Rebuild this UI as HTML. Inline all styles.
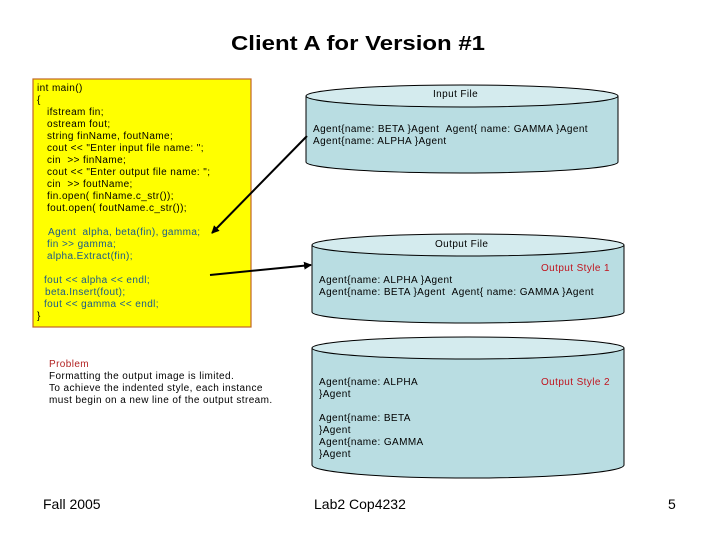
<!DOCTYPE html>
<html><head><meta charset="utf-8"><style>
html,body{margin:0;padding:0;background:#fff;width:720px;height:540px;overflow:hidden}
svg{display:block}
text{font-family:"Liberation Sans",Arial,sans-serif}
.s{letter-spacing:0.4px}
</style></head><body>
<svg width="720" height="540" viewBox="0 0 720 540" xmlns="http://www.w3.org/2000/svg">
<defs>
<marker id="ah" markerWidth="8" markerHeight="8" refX="7" refY="4" orient="auto" markerUnits="userSpaceOnUse">
<path d="M0,0 L8,4 L0,8 Z" fill="#000"/></marker>
</defs>
<text x="231" y="50" font-size="20" font-weight="bold" textLength="254" lengthAdjust="spacingAndGlyphs">Client A for Version #1</text>

<rect x="33" y="79" width="218" height="248" fill="#ffff00" stroke="#c0642a" stroke-width="1.2"/>
<g font-size="10" fill="#000" class="s">
<text x="37" y="91">int main()</text>
<text x="37" y="103">{</text>
<text x="47" y="115">ifstream fin;</text>
<text x="47" y="127">ostream fout;</text>
<text x="47" y="139">string finName, foutName;</text>
<text x="47" y="151">cout &lt;&lt; "Enter input file name: ";</text>
<text x="47" y="163">cin &#160;&gt;&gt; finName;</text>
<text x="47" y="175">cout &lt;&lt; "Enter output file name: ";</text>
<text x="47" y="187">cin &#160;&gt;&gt; foutName;</text>
<text x="47" y="199">fin.open( finName.c_str());</text>
<text x="47" y="211">fout.open( foutName.c_str());</text>
</g>
<g font-size="10" fill="#1a5a8a" class="s">
<text x="48" y="235">Agent &#160;alpha, beta(fin), gamma;</text>
<text x="47" y="247">fin &gt;&gt; gamma;</text>
<text x="47" y="259">alpha.Extract(fin);</text>
<text x="44" y="283">fout &lt;&lt; alpha &lt;&lt; endl;</text>
<text x="45" y="295">beta.Insert(fout);</text>
<text x="44" y="307">fout &lt;&lt; gamma &lt;&lt; endl;</text>
</g>
<text x="37" y="319" font-size="10">}</text>

<g font-size="10" class="s">
<text x="49" y="367" fill="#b22222">Problem</text>
<text x="49" y="379">Formatting the output image is limited.</text>
<text x="49" y="391">To achieve the indented style, each instance</text>
<text x="49" y="403">must begin on a new line of the output stream.</text>
</g>

<path d="M306,96 L306,162 A156,11 0 0 0 618,162 L618,96" fill="#b9dde2" stroke="#000" stroke-width="1"/>
<ellipse cx="462" cy="96" rx="156" ry="11" fill="#d4ebee" stroke="#000" stroke-width="1"/>
<g font-size="10" class="s">
<text x="433" y="97">Input File</text>
<text x="313" y="132">Agent{name: BETA }Agent &#160;Agent{ name: GAMMA }Agent</text>
<text x="313" y="144">Agent{name: ALPHA }Agent</text>
</g>

<path d="M312,245 L312,312 A156,11 0 0 0 624,312 L624,245" fill="#b9dde2" stroke="#000" stroke-width="1"/>
<ellipse cx="468" cy="245" rx="156" ry="11" fill="#d4ebee" stroke="#000" stroke-width="1"/>
<g font-size="10" class="s">
<text x="435" y="247">Output File</text>
<text x="541" y="271" fill="#c0141e">Output Style 1</text>
<text x="319" y="283">Agent{name: ALPHA }Agent</text>
<text x="319" y="295">Agent{name: BETA }Agent &#160;Agent{ name: GAMMA }Agent</text>
</g>

<path d="M312,348 L312,465 A156,13 0 0 0 624,465 L624,348" fill="#b9dde2" stroke="#000" stroke-width="1"/>
<ellipse cx="468" cy="348" rx="156" ry="11" fill="#d4ebee" stroke="#000" stroke-width="1"/>
<g font-size="10" class="s">
<text x="541" y="385" fill="#c0141e">Output Style 2</text>
<text x="319" y="385">Agent{name: ALPHA</text>
<text x="319" y="397">}Agent</text>
<text x="319" y="421">Agent{name: BETA</text>
<text x="319" y="433">}Agent</text>
<text x="319" y="445">Agent{name: GAMMA</text>
<text x="319" y="457">}Agent</text>
</g>

<line x1="307" y1="136" x2="212" y2="233" stroke="#000" stroke-width="2" marker-end="url(#ah)"/>
<line x1="210" y1="275" x2="311" y2="265" stroke="#000" stroke-width="2" marker-end="url(#ah)"/>

<text x="43" y="509" font-size="14">Fall 2005</text>
<text x="314" y="509" font-size="14">Lab2 Cop4232</text>
<text x="668" y="509" font-size="14">5</text>
</svg>
</body></html>
